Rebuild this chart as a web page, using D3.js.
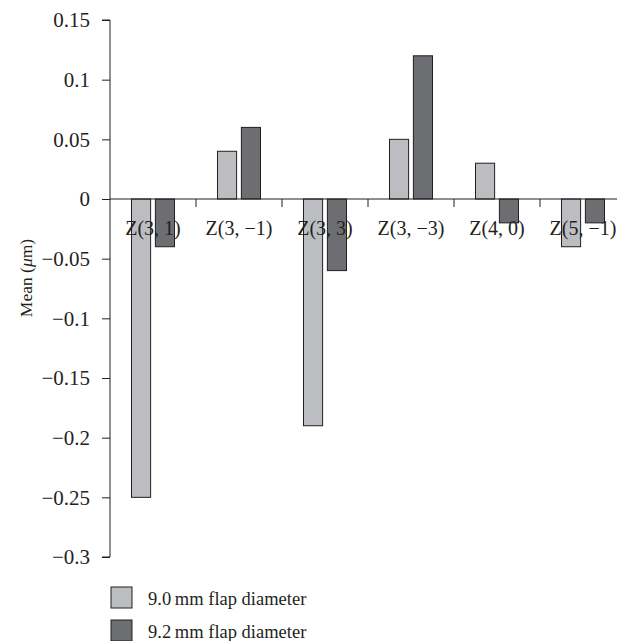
<!DOCTYPE html>
<html>
<head>
<meta charset="utf-8">
<script src="https://cdn.jsdelivr.net/npm/d3@7"></script>
<style>
  body { margin: 0; background: #fff; }
  text { font-family: "Liberation Serif", "DejaVu Serif", serif; fill: #231f20; }
</style>
</head>
<body>
<div id="chart"></div>
<script>
const categories = ["Z(3, 1)", "Z(3, \u22121)", "Z(3, 3)", "Z(3, \u22123)", "Z(4, 0)", "Z(5, \u22121)"];
const flap90 = [-0.25, 0.04, -0.19, 0.05, 0.03, -0.04];
const flap92 = [-0.04, 0.06, -0.06, 0.12, -0.02, -0.02];
const seriesNames = ["9.0\u2009mm flap diameter", "9.2\u2009mm flap diameter"];
const yTicks = [0.15, 0.1, 0.05, 0, -0.05, -0.1, -0.15, -0.2, -0.25, -0.3];
const yTickLabels = ["0.15", "0.1", "0.05", "0", "\u22120.05", "\u22120.1", "\u22120.15", "\u22120.2", "\u22120.25", "\u22120.3"];

const width = 617,
  height = 641,
  plotLeft = 110,
  plotRight = 626,
  plotTop = 20,
  plotBottom = 557;

const colors = ["#bcbdc0", "#6d6e71"];

const svg = d3
  .select("#chart")
  .append("svg")
  .attr("width", width)
  .attr("height", height);

const x = d3.scaleBand().domain(categories).range([plotLeft, plotRight]);
const inner = d3
  .scaleBand()
  .domain([0, 1])
  .range([21.5, x.bandwidth() - 21.5])
  .paddingInner(0.2);
const y = d3.scaleLinear().domain([-0.3, 0.15]).range([plotBottom, plotTop]);

const rows = categories.map((c, i) => ({ cat: c, vals: [flap90[i], flap92[i]] }));

// bars
svg
  .selectAll("g.grp")
  .data(rows)
  .enter()
  .append("g")
  .attr("class", "grp")
  .attr("transform", (d) => "translate(" + x(d.cat) + ",0)")
  .selectAll("rect")
  .data((d) => d.vals)
  .enter()
  .append("rect")
  .attr("x", (d, i) => inner(i))
  .attr("width", inner.bandwidth())
  .attr("y", (d) => y(Math.max(0, d)))
  .attr("height", (d) => Math.abs(y(d) - y(0)))
  .attr("fill", (d, i) => colors[i])
  .attr("stroke", "#231f20")
  .attr("stroke-width", 1);

// y axis
const yAxis = d3
  .axisLeft(y)
  .tickValues(yTicks)
  .tickFormat((d, i) => yTickLabels[i])
  .tickSize(8)
  .tickPadding(12);

const gy = svg
  .append("g")
  .attr("transform", "translate(" + plotLeft + ",0)")
  .call(yAxis)
  .attr("font-size", 21)
  .attr("font-family", null);
gy.select(".domain").attr("stroke", "#231f20").attr("d", "M-8," + y(0.15) + "H0V" + y(-0.3) + "H-8");
gy.selectAll(".tick line").attr("stroke", "#231f20");
gy.selectAll(".tick text")
  .attr("font-size", 21)
  .style("font-size", "21px")
  .attr("fill", "#231f20");

// x axis line at zero with ticks between categories
const boundaries = categories.map((c) => x(c)).slice(1).concat([plotRight]);
svg
  .append("line")
  .attr("x1", plotLeft)
  .attr("x2", plotRight)
  .attr("y1", y(0))
  .attr("y2", y(0))
  .attr("stroke", "#231f20")
  .attr("stroke-width", 1);
svg
  .selectAll("line.xtick")
  .data(boundaries)
  .enter()
  .append("line")
  .attr("class", "xtick")
  .attr("x1", (d) => d)
  .attr("x2", (d) => d)
  .attr("y1", y(0))
  .attr("y2", y(0) + 8)
  .attr("stroke", "#231f20");

// category labels (drawn over bars)
svg
  .selectAll("text.cat")
  .data(categories)
  .enter()
  .append("text")
  .attr("class", "cat")
  .attr("x", (d) => x(d) + x.bandwidth() / 2)
  .attr("y", y(0) + 36)
  .attr("text-anchor", "middle")
  .style("font-size", "20px")
  .text((d) => d);

// y axis title
svg
  .append("text")
  .attr("transform", "translate(32," + 278 + ") rotate(-90)")
  .attr("text-anchor", "middle")
  .style("font-size", "17.5px")
  .html('Mean (<tspan font-style="italic">\u03bc</tspan>m)');

// legend
const legend = svg
  .selectAll("g.legend")
  .data(seriesNames)
  .enter()
  .append("g")
  .attr("class", "legend")
  .attr("transform", (d, i) => "translate(111," + (587 + i * 33) + ")");
legend
  .append("rect")
  .attr("width", 21)
  .attr("height", 21)
  .attr("fill", (d, i) => colors[i])
  .attr("stroke", "#231f20")
  .attr("stroke-width", 1);
legend
  .append("text")
  .attr("x", 37)
  .attr("y", 18)
  .style("font-size", "18.5px")
  .text((d) => d);
</script>
</body>
</html>
